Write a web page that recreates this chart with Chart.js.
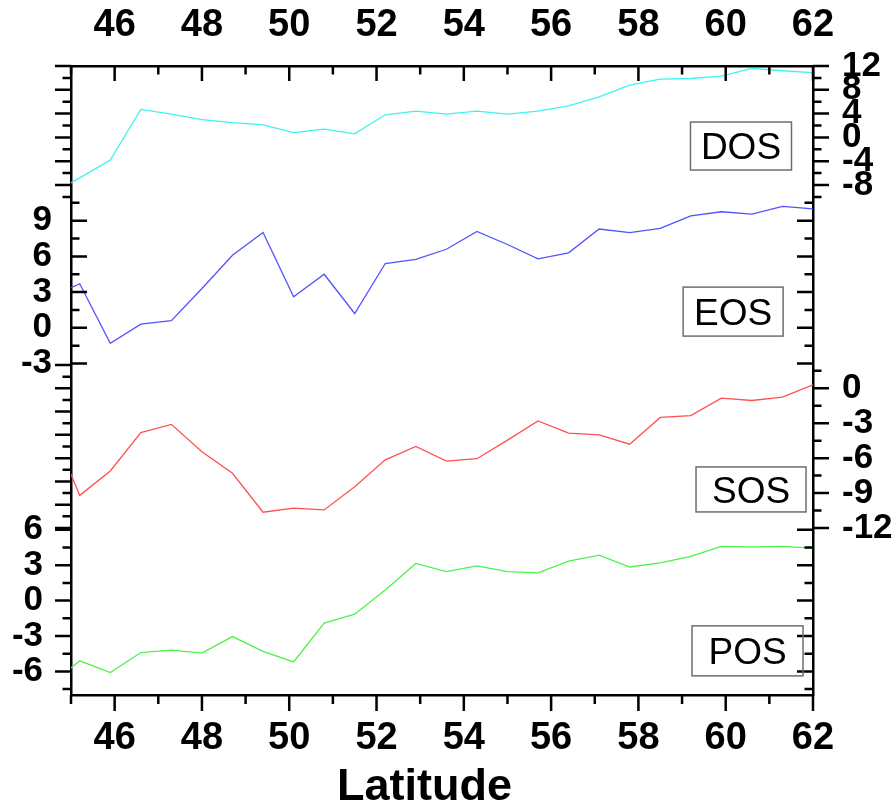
<!DOCTYPE html>
<html>
<head>
<meta charset="utf-8">
<script src="https://cdn.jsdelivr.net/npm/chart.js@4.4.1/dist/chart.umd.min.js"></script>
<style>
html,body{margin:0;padding:0;background:#fff;}
canvas{display:block;}
</style>
</head>
<body>
<canvas id="c" width="896" height="804"></canvas>
<script>
// ---------------- data ----------------
const LATITUDE = [44.5, 45.2, 45.9, 46.6, 47.3, 48.0, 48.7, 49.4, 50.1, 50.8, 51.5, 52.2, 52.9,
                  53.6, 54.3, 55.0, 55.7, 56.4, 57.1, 57.8, 58.5, 59.2, 59.9, 60.6, 61.3, 62.0];
const DOS = [-9.7, -6.8, -3.8, 4.7, 3.9, 3.0, 2.5, 2.1, 0.8, 1.4, 0.6, 3.8, 4.4,
             3.9, 4.4, 3.9, 4.4, 5.3, 6.8, 8.8, 9.8, 9.9, 10.3, 11.6, 11.2, 10.9];
const EOS = [2.5, 3.7, -1.3, 0.3, 0.6, 3.3, 6.1, 8.0, 2.6, 4.5, 1.2, 5.4, 5.75,
             6.6, 8.1, 7.0, 5.8, 6.3, 8.3, 8.0, 8.35, 9.4, 9.75, 9.55, 10.2, 10.0];
const SOS = [-2.9, -9.2, -7.1, -3.8, -3.1, -5.45, -7.3, -10.65, -10.3, -10.45, -8.45, -6.15, -5.0,
             -6.25, -6.05, -4.45, -2.8, -3.85, -4.0, -4.8, -2.5, -2.35, -0.85, -1.05, -0.75, 0.3];
const POS = [-7.2, -5.1, -6.1, -4.4, -4.2, -4.45, -3.05, -4.3, -5.2, -1.9, -1.15, 0.9, 3.15,
             2.45, 2.95, 2.45, 2.35, 3.35, 3.85, 2.85, 3.2, 3.75, 4.6, 4.55, 4.6, 4.45];

const X_TICKS   = [46, 48, 50, 52, 54, 56, 58, 60, 62];
const DOS_TICKS = [12, 8, 4, 0, -4, -8];
const EOS_TICKS = [9, 6, 3, 0, -3];
const SOS_TICKS = [0, -3, -6, -9, -12];
const POS_TICKS = [6, 3, 0, -3, -6];
const SERIES_NAMES = ['DOS', 'EOS', 'SOS', 'POS'];
const X_TITLE = 'Latitude';

// ---------------- styling / layout ----------------
const FAMILY = "'Liberation Sans', Arial, sans-serif";
const COLORS = { DOS: '#3ff2f2', EOS: '#5353ff', SOS: '#ff5050', POS: '#4cf24c' };

// axis ranges (each series has its own offset y-axis spanning the whole frame)
const RANGES = {
  yDOS: { min: -93.71, max: 12 },
  yEOS: { min: -30.86, max: 22 },
  ySOS: { min: -26.35, max: 27.69 },
  yPOS: { min: -8, max: 45.31 }
};

// tick-mark decoration: which scale, side of frame, direction, range
const Y_TICK_SPECS = [
  { axis: 'yDOS', side: 'right', dir: 'out', from: 12, to: -10, step: 2, major: 4 },
  { axis: 'yDOS', side: 'left',  dir: 'out', from: 12, to: -10, step: 2, major: 4 },
  { axis: 'yEOS', side: 'left',  dir: 'in',  from: 10.5, to: -3, step: 1.5, major: 3 },
  { axis: 'yEOS', side: 'right', dir: 'in',  from: 10.5, to: -3, step: 1.5, major: 3 },
  { axis: 'ySOS', side: 'right', dir: 'out', from: 1.5, to: -12, step: 1.5, major: 3 },
  { axis: 'ySOS', side: 'left',  dir: 'out', from: 2, to: -12, step: 1, major: 2 },
  { axis: 'yPOS', side: 'left',  dir: 'out', from: 6, to: -7.5, step: 1.5, major: 3 },
  { axis: 'yPOS', side: 'right', dir: 'in',  from: 6, to: -7.5, step: 1.5, major: 3 }
];

const LEGEND_BOXES = {
  DOS: { axis: 'yDOS', x: 60.35, y: -1.45, w: 101, h: 48 },
  EOS: { axis: 'yEOS', x: 60.17, y: 1.36,  w: 100, h: 49 },
  SOS: { axis: 'ySOS', x: 60.58, y: -8.69, w: 110, h: 45 },
  POS: { axis: 'yPOS', x: 60.5,  y: -4.26, w: 111, h: 50 }
};

// ---------------- helpers ----------------
const SERIES = { DOS, EOS, SOS, POS };
function toPoints(arr) { return LATITUDE.map((lat, i) => ({ x: lat, y: arr[i] })); }
function setTicks(vals) { return s => { s.ticks = vals.map(v => ({ value: v })); }; }
function fixWidth(w) { return s => { s.width = w; }; }
function fixHeight(h) { return s => { s.height = h; }; }

function yAxis(id, position, weight, width, ticks, padding, showBorder) {
  return {
    type: 'linear', position, weight,
    min: RANGES[id].min, max: RANGES[id].max,
    afterBuildTicks: setTicks(ticks),
    afterFit: fixWidth(width),
    grid: { display: true, drawOnChartArea: false, drawTicks: false },
    border: { display: showBorder, color: '#000', width: 2.5 },
    ticks: {
      autoSkip: false, padding, color: '#000',
      font: { family: FAMILY, size: 35, weight: 'bold' },
      callback: v => String(v)
    }
  };
}
function xAxis(position, height, padding) {
  return {
    type: 'linear', position, min: 45, max: 62,
    afterBuildTicks: setTicks(X_TICKS),
    afterFit: fixHeight(height),
    grid: { display: true, drawOnChartArea: false, drawTicks: false },
    border: { display: true, color: '#000', width: 2.5 },
    ticks: {
      autoSkip: false, maxRotation: 0, padding, color: '#000',
      font: { family: FAMILY, size: 38, weight: 'bold' },
      callback: v => String(v)
    }
  };
}

// the inner axes share the frame edge with the outer ones: give their labels room
const labelRoom = {
  id: 'labelRoom',
  afterLayout(chart) {
    chart.scales.yEOS.left = 0;
    chart.scales.yDOS.right = chart.width;
  }
};

// tick marks drawn from the scales
const tickMarks = {
  id: 'tickMarks',
  afterDraw(chart) {
    const { ctx, chartArea: a } = chart;
    ctx.save();
    ctx.strokeStyle = '#000';
    ctx.lineWidth = 2.5;
    ctx.lineCap = 'butt';
    ctx.beginPath();
    for (const s of Y_TICK_SPECS) {
      const sc = chart.scales[s.axis];
      const x0 = s.side === 'left' ? a.left : a.right;
      const sign = ((s.side === 'left') === (s.dir === 'out')) ? -1 : 1;
      for (let k = 0; ; k++) {
        const v = s.from - k * s.step;
        if (v < s.to - 1e-9) break;
        const y = sc.getPixelForValue(v);
        const r = v / s.major;
        const isMajor = Math.abs(r - Math.round(r)) < 1e-6;
        const len = isMajor ? 16 : 8.5;
        ctx.moveTo(x0, y);
        ctx.lineTo(x0 + sign * len, y);
      }
    }
    const xs = chart.scales.x;
    for (let v = 45; v <= 62; v++) {
      const x = xs.getPixelForValue(v);
      const len = v % 2 === 0 ? 16 : 9;
      ctx.moveTo(x, a.bottom); ctx.lineTo(x, a.bottom + len);
      ctx.moveTo(x, a.top);    ctx.lineTo(x, a.top + (v % 2 === 0 ? 15 : 8.5));
    }
    ctx.stroke();
    ctx.restore();
  }
};

// boxed series labels and the x-axis title
const textLayer = {
  id: 'textLayer',
  afterDraw(chart) {
    const { ctx } = chart;
    const xs = chart.scales.x;
    ctx.save();
    for (const name of SERIES_NAMES) {
      const b = LEGEND_BOXES[name];
      const cx = xs.getPixelForValue(b.x);
      const cy = chart.scales[b.axis].getPixelForValue(b.y);
      ctx.strokeStyle = '#6e6e6e';
      ctx.lineWidth = 1.5;
      ctx.strokeRect(cx - b.w / 2, cy - b.h / 2, b.w, b.h);
      ctx.fillStyle = '#000';
      ctx.font = '37px ' + FAMILY;
      ctx.textAlign = 'center';
      ctx.textBaseline = 'alphabetic';
      ctx.fillText(name, cx, cy + 13.2);
    }
    ctx.fillStyle = '#000';
    ctx.font = 'bold 45px ' + FAMILY;
    ctx.textAlign = 'center';
    ctx.textBaseline = 'alphabetic';
    ctx.fillText(X_TITLE, xs.getPixelForValue(53.1), 800);
    ctx.restore();
  }
};

const datasets = SERIES_NAMES.map(name => ({
  label: name,
  data: toPoints(SERIES[name]),
  xAxisID: 'x',
  yAxisID: 'y' + name,
  borderColor: COLORS[name],
  backgroundColor: COLORS[name],
  borderWidth: 1.3,
  pointRadius: 0,
  tension: 0,
  fill: false
}));

new Chart(document.getElementById('c'), {
  type: 'line',
  data: { datasets },
  options: {
    responsive: false,
    animation: false,
    devicePixelRatio: 1,
    layout: { padding: 0 },
    plugins: { legend: { display: false }, tooltip: { enabled: false }, title: { display: false } },
    scales: {
      x:    xAxis('bottom', 109, 21),
      x2:   xAxis('top', 66, 18),
      yEOS: yAxis('yEOS', 'left', 0, 0, EOS_TICKS, 19, true),
      yPOS: yAxis('yPOS', 'left', 1, 71, POS_TICKS, 28, false),
      yDOS: yAxis('yDOS', 'right', 0, 0, DOS_TICKS, 29, true),
      ySOS: yAxis('ySOS', 'right', 1, 83, SOS_TICKS, 29, false)
    }
  },
  plugins: [labelRoom, tickMarks, textLayer]
});
</script>
</body>
</html>
